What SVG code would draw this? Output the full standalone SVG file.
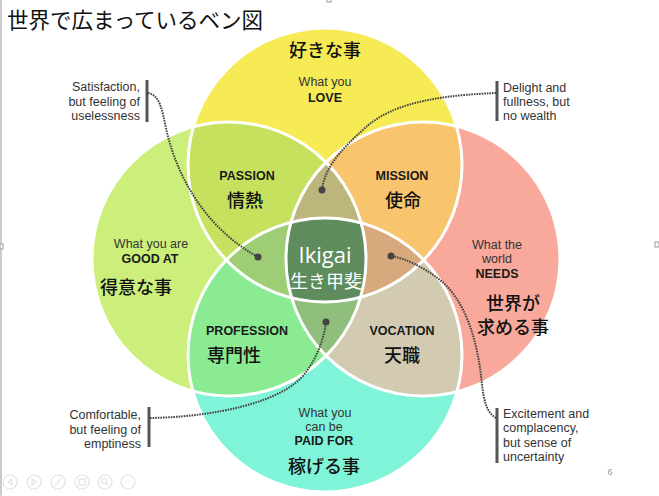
<svg xmlns="http://www.w3.org/2000/svg" width="659" height="496" viewBox="0 0 659 496">
<style>
.en{font-family:"Liberation Sans",Arial,sans-serif;font-size:12.5px;fill:#333;text-anchor:middle}
.enb{font-family:"Liberation Sans",Arial,sans-serif;font-size:12.5px;font-weight:700;fill:#1a1a1a;text-anchor:middle}
.jp{font-family:"Noto Sans CJK JP","Noto Sans",sans-serif;font-size:18px;font-weight:500;fill:#111;text-anchor:middle}
.note{font-family:"Liberation Sans",Arial,sans-serif;font-size:12.5px;fill:#333}
.bar{stroke:#555;stroke-width:3;fill:none}
.con{stroke:#444;stroke-width:2;stroke-dasharray:1.6 1;fill:none}
.dot{fill:#444}
.ring{fill:none;stroke:#fff;stroke-width:3}
.nav{fill:none;stroke:#e2e2e2;stroke-width:1.2}
</style>
<defs>
<clipPath id="cT"><circle cx="325" cy="165" r="137"/></clipPath>
<clipPath id="cL"><circle cx="229" cy="259" r="137"/></clipPath>
<clipPath id="cR"><circle cx="423" cy="259" r="137"/></clipPath>
<clipPath id="cB"><circle cx="325" cy="355" r="137"/></clipPath>
</defs>
<rect width="659" height="496" fill="#fff"/>
<line x1="1" y1="0" x2="1" y2="496" stroke="#bbb" stroke-width="1.5"/>

<text x="7" y="28" font-family="'Noto Sans CJK JP','Noto Sans',sans-serif" font-size="21.5" fill="#111">世界で広まっているベン図</text>

<!-- base circles -->
<g id="love-circle"><circle cx="325" cy="165" r="137" fill="#F6EA55"/></g>
<g id="good-circle"><circle cx="229" cy="259" r="137" fill="#CBEF7A"/></g>
<g id="needs-circle"><circle cx="423" cy="259" r="137" fill="#F9A99B"/></g>
<g id="paid-circle"><circle cx="325" cy="355" r="137" fill="#80F4D8"/></g>

<!-- pairwise overlaps -->
<g id="passion-area" clip-path="url(#cT)"><circle cx="229" cy="259" r="137" fill="#C6E15D"/></g>
<g id="mission-area" clip-path="url(#cT)"><circle cx="423" cy="259" r="137" fill="#F8C46D"/></g>
<g id="profession-area" clip-path="url(#cB)"><circle cx="229" cy="259" r="137" fill="#8BEB93"/></g>
<g id="vocation-area" clip-path="url(#cB)"><circle cx="423" cy="259" r="137" fill="#D3CBB1"/></g>

<!-- triple overlaps -->
<g id="tri-top" clip-path="url(#cT)"><g clip-path="url(#cL)"><circle cx="423" cy="259" r="137" fill="#BDB67C"/></g></g>
<g id="tri-left" clip-path="url(#cT)"><g clip-path="url(#cL)"><circle cx="325" cy="355" r="137" fill="#9FCD75"/></g></g>
<g id="tri-right" clip-path="url(#cT)"><g clip-path="url(#cR)"><circle cx="325" cy="355" r="137" fill="#D7A97C"/></g></g>
<g id="tri-bottom" clip-path="url(#cL)"><g clip-path="url(#cR)"><circle cx="325" cy="355" r="137" fill="#90BF7D"/></g></g>
<g id="ikigai-area" clip-path="url(#cT)"><g clip-path="url(#cB)"><g clip-path="url(#cL)"><circle cx="423" cy="259" r="137" fill="#5E8C5C"/></g></g></g>

<!-- white outlines -->
<g id="outlines">
<circle class="ring" cx="325" cy="165" r="137"/>
<circle class="ring" cx="229" cy="259" r="137"/>
<circle class="ring" cx="423" cy="259" r="137"/>
<circle class="ring" cx="325" cy="355" r="137"/>
</g>

<!-- labels -->
<g id="love">
<text class="jp" x="325" y="57">好きな事</text>
<text class="en" x="325" y="86">What you</text>
<text class="enb" x="325" y="102">LOVE</text>
</g>
<g id="good-at">
<text class="en" x="151" y="248">What you are</text>
<text class="enb" x="150" y="263">GOOD AT</text>
<text class="jp" x="136" y="294">得意な事</text>
</g>
<g id="needs">
<text class="en" x="497" y="249">What the</text>
<text class="en" x="497" y="263">world</text>
<text class="enb" x="497" y="278">NEEDS</text>
<text class="jp" x="513" y="310">世界が</text>
<text class="jp" x="513" y="334">求める事</text>
</g>
<g id="paid-for">
<text class="en" x="325" y="417">What you</text>
<text class="en" x="324" y="431">can be</text>
<text class="enb" x="324" y="445">PAID FOR</text>
<text class="jp" x="324" y="473">稼げる事</text>
</g>
<g id="passion">
<text class="enb" x="247" y="180">PASSION</text>
<text class="jp" x="245" y="207">情熱</text>
</g>
<g id="mission">
<text class="enb" x="402" y="180">MISSION</text>
<text class="jp" x="403" y="207">使命</text>
</g>
<g id="profession">
<text class="enb" x="247" y="335">PROFESSION</text>
<text class="jp" x="234" y="362">専門性</text>
</g>
<g id="vocation">
<text class="enb" x="402" y="335">VOCATION</text>
<text class="jp" x="402" y="362">天職</text>
</g>
<g id="ikigai">
<text x="325" y="263" font-family="'Open Sans','Liberation Sans',sans-serif" font-size="22" fill="#fff" text-anchor="middle">Ikigai</text>
<text x="326" y="288" font-family="'Noto Sans CJK JP','Noto Sans',sans-serif" font-size="18" fill="#fff" text-anchor="middle">生き甲斐</text>
</g>

<!-- annotations -->
<g id="note-satisfaction">
<text class="note" x="140" y="91" text-anchor="end">Satisfaction,</text>
<text class="note" x="140" y="106" text-anchor="end">but feeling of</text>
<text class="note" x="140" y="120" text-anchor="end">uselessness</text>
<line class="bar" x1="147" y1="80" x2="147" y2="122"/>
</g>
<g id="note-delight">
<text class="note" x="503" y="92">Delight and</text>
<text class="note" x="503" y="106">fullness, but</text>
<text class="note" x="503" y="120">no wealth</text>
<line class="bar" x1="497" y1="81" x2="497" y2="121"/>
</g>
<g id="note-comfortable">
<text class="note" x="141" y="419" text-anchor="end">Comfortable,</text>
<text class="note" x="141" y="434" text-anchor="end">but feeling of</text>
<text class="note" x="141" y="448" text-anchor="end">emptiness</text>
<line class="bar" x1="149" y1="407" x2="149" y2="447"/>
</g>
<g id="note-excitement">
<text class="note" x="503" y="418">Excitement and</text>
<text class="note" x="503" y="432">complacency,</text>
<text class="note" x="503" y="447">but sense of</text>
<text class="note" x="503" y="461">uncertainty</text>
<line class="bar" x1="497" y1="408" x2="497" y2="463"/>
</g>

<g id="connectors">
<path class="con" d="M148,93 C160,95 162,110 166,128 C176,175 205,228 258,257"/>
<path class="con" d="M496,93 C450,95 395,100 365,128 C345,146 325,165 322,190"/>
<path class="con" d="M150,418 C215,417 285,402 306,372 C318,356 324,338 326,322"/>
<path class="con" d="M496,418 C486,412 484,400 482,385 C478,340 465,300 440,280 C425,268 405,258 391,256"/>
<circle class="dot" cx="258" cy="257" r="3.5"/>
<circle class="dot" cx="322" cy="190" r="3.5"/>
<circle class="dot" cx="326" cy="322" r="3.5"/>
<circle class="dot" cx="391" cy="256" r="3.5"/>
</g>

<text x="610" y="475" font-family="'Liberation Sans',sans-serif" font-size="9" fill="#999" text-anchor="middle">6</text>

<!-- slide navigation icons -->
<g id="nav">
<circle class="nav" cx="10" cy="482" r="7"/>
<path class="nav" d="M12,479 L8,482 L12,485 Z"/>
<circle class="nav" cx="34" cy="482" r="7"/>
<path class="nav" d="M32,479 L36,482 L32,485 Z"/>
<circle class="nav" cx="58" cy="482" r="7"/>
<path class="nav" d="M55,486 L61,478"/>
<circle class="nav" cx="82" cy="482" r="7"/>
<rect class="nav" x="79" y="479" width="6" height="6"/>
<circle class="nav" cx="105" cy="482" r="7"/>
<circle class="nav" cx="104" cy="481" r="2.5"/>
<path class="nav" d="M106,483 L108,485"/>
<circle class="nav" cx="128" cy="482" r="7"/>
<path class="nav" d="M125,482 h1 M128,482 h1 M131,482 h1"/>
</g>
<g id="handles" fill="#fff" stroke="#999" stroke-width="1">
<rect x="0" y="244" width="3" height="5"/>
<rect x="327" y="-1" width="4" height="3"/>
<rect x="655" y="242" width="4" height="5"/>
</g>
</svg>
